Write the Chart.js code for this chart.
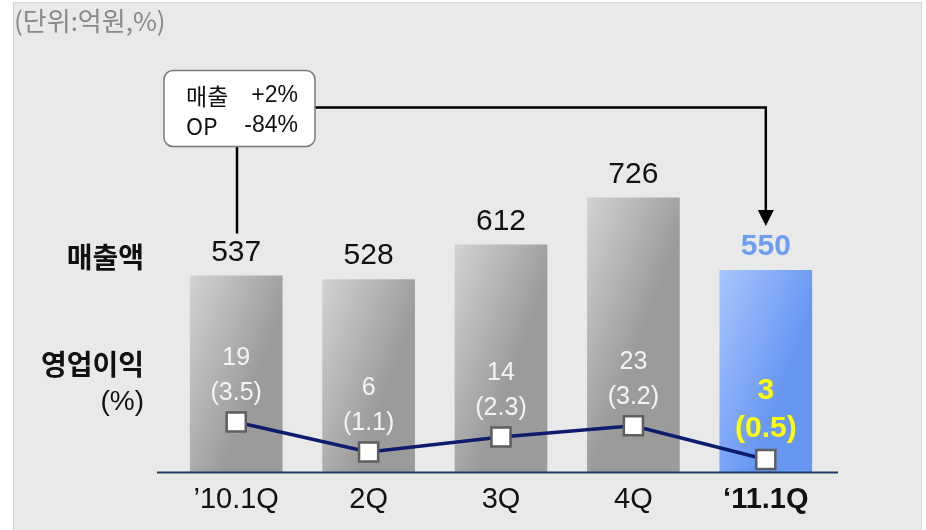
<!DOCTYPE html>
<html>
<head>
<meta charset="utf-8">
<script src="https://cdn.jsdelivr.net/npm/chart.js@4.4.1/dist/chart.umd.min.js"></script>
<style>
  html, body { margin: 0; padding: 0; background: #fff; }
  #wrap { width: 926px; height: 530px; position: relative; }
</style>
</head>
<body>
<div id="wrap"><canvas id="salesChart"></canvas></div>
<script>
const quarters = ["\u201910.1Q", "2Q", "3Q", "4Q", "\u201811.1Q"]
const sales = [537, 528, 612, 726, 550]
const opProfit = [19, 6, 14, 23, 3]
const opMargin = [3.5, 1.1, 2.3, 3.2, 0.5]
const growthNotes = [["매출", "+2%"], ["OP", "-84%"]]

const latin = "'Liberation Sans', Arial, sans-serif"
const korean = "'Noto Sans CJK KR', 'Liberation Sans', sans-serif"
const last = sales.length - 1

// diagonal shading, light at the top left corner of each bar
function barFill(context) {
    const chart = context.chart
    const area = chart.chartArea
    if (!area || context.type !== "data") return "#bbbbbb"
    const x = chart.scales.x.getPixelForValue(context.dataIndex)
    const top = chart.scales.y.getPixelForValue(sales[context.dataIndex])
    const g = chart.ctx.createLinearGradient(x - 47, top, x + 47, top + 35)
    if (context.dataIndex === last) {
        g.addColorStop(0, "#a9c6fd")
        g.addColorStop(1, "#6897f3")
    } else {
        g.addColorStop(0, "#d3d3d3")
        g.addColorStop(1, "#9b9b9b")
    }
    return g
}

function roundRect(c, x, y, w, h, r) {
    c.beginPath()
    c.moveTo(x + r, y)
    c.arcTo(x + w, y, x + w, y + h, r)
    c.arcTo(x + w, y + h, x, y + h, r)
    c.arcTo(x, y + h, x, y, r)
    c.arcTo(x, y, x + w, y, r)
    c.closePath()
}

const decorations = {
    id: "decorations",
    beforeDraw(chart) {
        const c = chart.ctx
        c.save()
        c.fillStyle = "#ffffff"
        c.fillRect(0, 0, chart.width, chart.height)
        c.fillStyle = "#e9e9e9"
        c.fillRect(13, 2, 908, 540)
        c.strokeStyle = "#d5d5d5"
        c.lineWidth = 1
        c.strokeRect(13.5, 2.5, 908, 540)
        c.restore()
    },
    afterDatasetsDraw(chart) {
        const c = chart.ctx
        const area = chart.chartArea
        const bars = chart.getDatasetMeta(0).data
        const points = chart.getDatasetMeta(1).data
        c.save()

        // base line under the bars
        c.strokeStyle = "#1c3a66"
        c.lineWidth = 2
        c.beginPath()
        c.moveTo(area.left - 13, area.bottom + 0.5)
        c.lineTo(area.right + 6, area.bottom + 0.5)
        c.stroke()

        c.textAlign = "center"
        c.textBaseline = "middle"

        // sales above the bars
        bars.forEach((bar, i) => {
            const hot = i === last
            c.font = (hot ? "bold " : "") + "30px " + latin
            c.fillStyle = hot ? "#6c9df2" : "#111111"
            c.fillText(String(sales[i]), bar.x, bar.y - 23)
        })

        // operating profit and margin above each marker
        points.forEach((pt, i) => {
            const hot = i === last
            c.font = hot ? "bold 30px " + latin : "25px " + latin
            c.fillStyle = hot ? "#ffff00" : "#f4f4f4"
            c.fillText(String(opProfit[i]), pt.x, pt.y - (hot ? 69 : 64))
            c.fillText("(" + opMargin[i].toFixed(1) + ")", pt.x, pt.y - (hot ? 31 : 29))
        })
        c.restore()
    },
    afterDraw(chart) {
        const c = chart.ctx
        const bars = chart.getDatasetMeta(0).data
        c.save()

        c.font = "26px " + korean
        c.fillStyle = "#888888"
        c.textAlign = "left"
        c.textBaseline = "middle"
        c.fillText("(단위:억원,%)", 14, 21)

        // row titles on the left
        c.fillStyle = "#111111"
        c.textAlign = "right"
        c.font = "bold 28px " + korean
        c.fillText("매출액", 144, 257)
        c.fillText("영업이익", 144, 364)
        c.font = "28px " + latin
        c.fillText("(%)", 144, 402)

        // growth callout and its connectors
        const first = bars[0]
        const hot = bars[last]
        c.strokeStyle = "#000000"
        c.lineWidth = 2.5
        c.beginPath()
        c.moveTo(237, 146)
        c.lineTo(237, first.y - 42)
        c.moveTo(315, 107.5)
        c.lineTo(hot.x, 107.5)
        c.lineTo(hot.x, hot.y - 58)
        c.stroke()
        c.fillStyle = "#000000"
        c.beginPath()
        c.moveTo(hot.x - 8, hot.y - 60)
        c.lineTo(hot.x + 8, hot.y - 60)
        c.lineTo(hot.x, hot.y - 44)
        c.closePath()
        c.fill()

        roundRect(c, 164, 70.5, 151, 76, 9)
        c.fillStyle = "#ffffff"
        c.fill()
        c.strokeStyle = "#7a7a7a"
        c.lineWidth = 1.5
        c.stroke()

        c.fillStyle = "#111111"
        growthNotes.forEach((note, i) => {
            const y = 96 + i * 30
            c.textAlign = "left"
            c.font = "23px " + korean
            c.fillText(note[0], 186, y)
            c.textAlign = "right"
            c.font = "23px " + latin
            c.fillText(note[1], 298, y)
        })
        c.restore()
    }
}

new Chart(document.getElementById("salesChart"), {
    data: {
        labels: quarters,
        datasets: [
            {
                type: "bar",
                label: "매출액",
                data: sales,
                yAxisID: "y",
                backgroundColor: barFill,
                borderWidth: 0,
                categoryPercentage: 1,
                barPercentage: 0.7,
                order: 1
            },
            {
                type: "line",
                label: "영업이익률",
                data: opMargin,
                yAxisID: "y2",
                borderColor: "#0d1c6c",
                borderWidth: 3.5,
                pointStyle: "rect",
                pointRadius: 13.5,
                pointBackgroundColor: "#ffffff",
                pointBorderColor: "#5e5e5e",
                pointBorderWidth: 2.5,
                tension: 0,
                order: 0
            }
        ]
    },
    options: {
        responsive: true,
        maintainAspectRatio: false,
        animation: false,
        layout: {
            padding: { left: 170, right: 94, top: 60, bottom: 0 }
        },
        plugins: {
            legend: { display: false },
            tooltip: { enabled: false }
        },
        scales: {
            x: {
                grid: { display: false, drawTicks: false },
                border: { display: false },
                ticks: {
                    padding: 11,
                    color: "#111111",
                    font: (ctx) => ({
                        family: latin,
                        size: 29,
                        weight: ctx.index === last ? "bold" : "normal"
                    })
                },
                afterFit(scale) {
                    scale.height = 58
                }
            },
            y: {
                display: false,
                min: 60,
                max: 1060
            },
            y2: {
                display: false,
                min: -0.5,
                max: 32.5
            }
        }
    },
    plugins: [decorations]
})
</script>
</body>
</html>
